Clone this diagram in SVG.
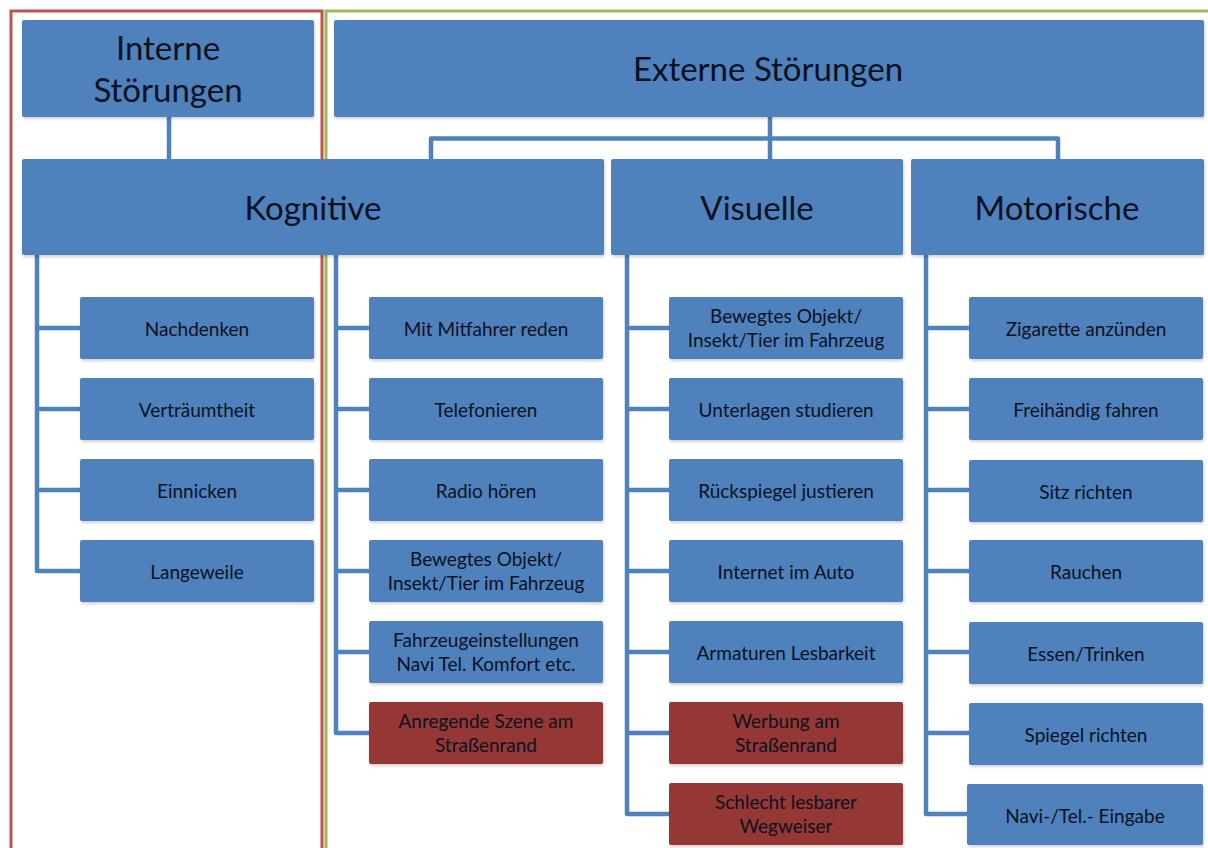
<svg xmlns="http://www.w3.org/2000/svg" width="1208" height="848" viewBox="0 0 1208 848">
<style>
.b{fill:#4F81BD;filter:url(#sh)}
.r{fill:#953735;filter:url(#sh)}
.t{font-family:Lato,"Liberation Sans",sans-serif;fill:#0b1120;text-anchor:middle}
.s{font-size:19px}
.L{font-size:33px}
.c{fill:none;stroke:#4F81BD;stroke-width:4.5;stroke-linejoin:round}
</style>
<defs>
<filter id="sh" x="-5%" y="-10%" width="110%" height="130%">
<feDropShadow dx="1" dy="2" stdDeviation="1.5" flood-color="#000" flood-opacity="0.18"/>
</filter>
</defs>
<rect width="1208" height="848" fill="#fff"/>
<g id="frames">
<rect x="11" y="11" width="311" height="860" fill="none" stroke="#C0504D" stroke-width="3"/>
<rect x="326" y="11" width="900" height="860" fill="none" stroke="#9BBB59" stroke-width="3"/>
</g>
<g id="connectors">
<path class="c" d="M169 117V159"/>
<path class="c" d="M770 117V159M431 159V138.5H1058V159"/>
<path class="c" d="M37 255V571H80M37 328H80M37 409H80M37 490H80"/>
<path class="c" d="M336 255V733H369M336 328H369M336 409H369M336 490H369M336 571H369M336 652H369"/>
<path class="c" d="M627 255V814H669M627 328H669M627 409H669M627 490H669M627 571H669M627 652H669M627 733H669"/>
<path class="c" d="M926 255V814H969M926 328H969M926 409H969M926 490H969M926 571H969M926 652H969M926 733H969"/>
</g>
<g id="interne"><rect class="b" x="22" y="20" width="292" height="97" rx="2"/><text class="t L" x="168" y="60">Interne</text><text class="t L" x="168" y="102">Störungen</text></g>
<g id="externe"><rect class="b" x="334" y="20" width="870" height="97" rx="2"/><text class="t L" x="768" y="81">Externe Störungen</text></g>
<g id="kognitive"><rect class="b" x="22" y="159" width="582" height="96" rx="2"/><text class="t L" x="313" y="220">Kognitive</text></g>
<g id="visuelle"><rect class="b" x="611" y="159" width="292" height="96" rx="2"/><text class="t L" x="757" y="220">Visuelle</text></g>
<g id="motorische"><rect class="b" x="911" y="159" width="293" height="96" rx="2"/><text class="t L" x="1057" y="220">Motorische</text></g>

<g id="nachdenken"><rect class="b" x="80" y="297" width="234" height="62" rx="2"/><text class="t s" x="197" y="336">Nachdenken</text></g>
<g id="vertraeumtheit"><rect class="b" x="80" y="378" width="234" height="62" rx="2"/><text class="t s" x="197" y="417">Verträumtheit</text></g>
<g id="einnicken"><rect class="b" x="80" y="459" width="234" height="62" rx="2"/><text class="t s" x="197" y="498">Einnicken</text></g>
<g id="langeweile"><rect class="b" x="80" y="540" width="234" height="62" rx="2"/><text class="t s" x="197" y="579">Langeweile</text></g>

<g id="mitfahrer"><rect class="b" x="369" y="297" width="234" height="62" rx="2"/><text class="t s" x="486" y="336">Mit Mitfahrer reden</text></g>
<g id="telefonieren"><rect class="b" x="369" y="378" width="234" height="62" rx="2"/><text class="t s" x="486" y="417">Telefonieren</text></g>
<g id="radio"><rect class="b" x="369" y="459" width="234" height="62" rx="2"/><text class="t s" x="486" y="498">Radio hören</text></g>
<g id="objekt-k"><rect class="b" x="369" y="540" width="234" height="62" rx="2"/><text class="t s" x="486" y="566">Bewegtes Objekt/</text><text class="t s" x="486" y="590">Insekt/Tier im Fahrzeug</text></g>
<g id="fahrzeugeinstellungen"><rect class="b" x="369" y="621" width="234" height="62" rx="2"/><text class="t s" x="486" y="647">Fahrzeugeinstellungen</text><text class="t s" x="486" y="671">Navi Tel. Komfort etc.</text></g>
<g id="anregende"><rect class="r" x="369" y="702" width="234" height="62" rx="2"/><text class="t s" x="486" y="728">Anregende Szene am</text><text class="t s" x="486" y="752">Straßenrand</text></g>

<g id="objekt-v"><rect class="b" x="669" y="297" width="234" height="62" rx="2"/><text class="t s" x="786" y="323">Bewegtes Objekt/</text><text class="t s" x="786" y="347">Insekt/Tier im Fahrzeug</text></g>
<g id="unterlagen"><rect class="b" x="669" y="378" width="234" height="62" rx="2"/><text class="t s" x="786" y="417">Unterlagen studieren</text></g>
<g id="rueckspiegel"><rect class="b" x="669" y="459" width="234" height="62" rx="2"/><text class="t s" x="786" y="498">Rückspiegel justieren</text></g>
<g id="internet"><rect class="b" x="669" y="540" width="234" height="62" rx="2"/><text class="t s" x="786" y="579">Internet im Auto</text></g>
<g id="armaturen"><rect class="b" x="669" y="621" width="234" height="62" rx="2"/><text class="t s" x="786" y="660">Armaturen Lesbarkeit</text></g>
<g id="werbung"><rect class="r" x="669" y="702" width="234" height="62" rx="2"/><text class="t s" x="786" y="728">Werbung am</text><text class="t s" x="786" y="752">Straßenrand</text></g>
<g id="wegweiser"><rect class="r" x="669" y="783" width="234" height="62" rx="2"/><text class="t s" x="786" y="809">Schlecht lesbarer</text><text class="t s" x="786" y="833">Wegweiser</text></g>

<g id="zigarette"><rect class="b" x="969" y="297" width="234" height="62" rx="2"/><text class="t s" x="1086" y="336">Zigarette anzünden</text></g>
<g id="freihaendig"><rect class="b" x="969" y="378" width="234" height="62" rx="2"/><text class="t s" x="1086" y="417">Freihändig fahren</text></g>
<g id="sitz"><rect class="b" x="969" y="460" width="234" height="62" rx="2"/><text class="t s" x="1086" y="499">Sitz richten</text></g>
<g id="rauchen"><rect class="b" x="969" y="540" width="234" height="62" rx="2"/><text class="t s" x="1086" y="579">Rauchen</text></g>
<g id="essen"><rect class="b" x="969" y="622" width="234" height="62" rx="2"/><text class="t s" x="1086" y="661">Essen/Trinken</text></g>
<g id="spiegel"><rect class="b" x="969" y="703" width="234" height="62" rx="2"/><text class="t s" x="1086" y="742">Spiegel richten</text></g>
<g id="navi"><rect class="b" x="967" y="784" width="236" height="61" rx="2"/><text class="t s" x="1085" y="823">Navi-/Tel.- Eingabe</text></g>
</svg>
